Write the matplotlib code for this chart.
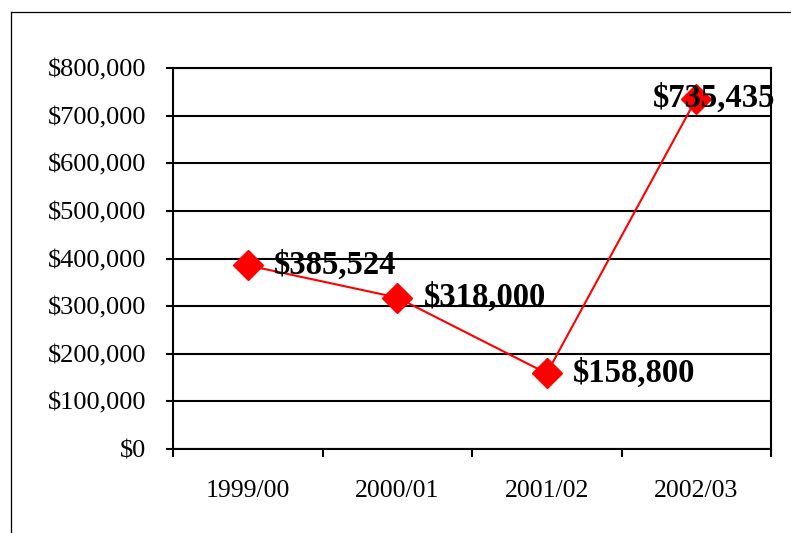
import matplotlib
matplotlib.use("Agg")
import numpy as np
import matplotlib.pyplot as plt
from matplotlib.lines import Line2D
from matplotlib.ticker import FuncFormatter, FixedLocator

years = ["1999/00", "2000/01", "2001/02", "2002/03"]
amounts = [385524, 318000, 158800, 735435]

plt.rcParams["font.family"] = ["Liberation Serif", "DejaVu Serif"]

fig = plt.figure(figsize=(7.91, 5.33), dpi=100)
ax = fig.add_axes([173 / 791, 1 - 449 / 533, 598 / 791, 381 / 533])

x = np.arange(len(years))
ax.plot(x, amounts, color="red", lw=1.5, marker="D", markersize=15,
        markerfacecolor="red", markeredgecolor="red", zorder=3)

# label offsets in points (the last one is pushed left to stay in the frame)
offsets = [(19, 0), (19, 0), (19, 0), (-31, 0)]
for xi, v, off in zip(x, amounts, offsets):
    ax.annotate(f"${v:,}", (xi, v), xytext=off, textcoords="offset points",
                ha="left", va="center", fontsize=23.5, fontweight="bold", zorder=4)

ax.set_xlim(-0.5, len(years) - 0.5)
ax.set_ylim(0, 800000)
ax.set_yticks(np.arange(0, 800001, 100000))
ax.yaxis.set_major_formatter(FuncFormatter(lambda v, p: f"${v:,.0f}"))
ax.grid(axis="y", color="black", lw=1.5)
ax.set_axisbelow(True)

ax.xaxis.set_major_locator(FixedLocator(np.arange(len(years) + 1) - 0.5))
ax.xaxis.set_minor_locator(FixedLocator(x))
ax.set_xticklabels([])
ax.set_xticklabels(years, minor=True)
ax.tick_params(axis="x", which="major", direction="out", length=6, width=1.5)
ax.tick_params(axis="x", which="minor", length=0, pad=22, labelsize=18.5)
ax.tick_params(axis="y", direction="out", length=5, width=1.5, pad=14, labelsize=19)

for s in ax.spines.values():
    s.set_linewidth(1.5)
    s.set_color("black")

# outer frame (only top and left edges fall inside the picture)
fig.add_artist(Line2D([11 / 791, 1], [1 - 12 / 533, 1 - 12 / 533], color="black", lw=0.9))
fig.add_artist(Line2D([11 / 791, 11 / 791], [0, 1 - 12 / 533], color="black", lw=0.9))

fig.savefig("out.png", dpi=100)
